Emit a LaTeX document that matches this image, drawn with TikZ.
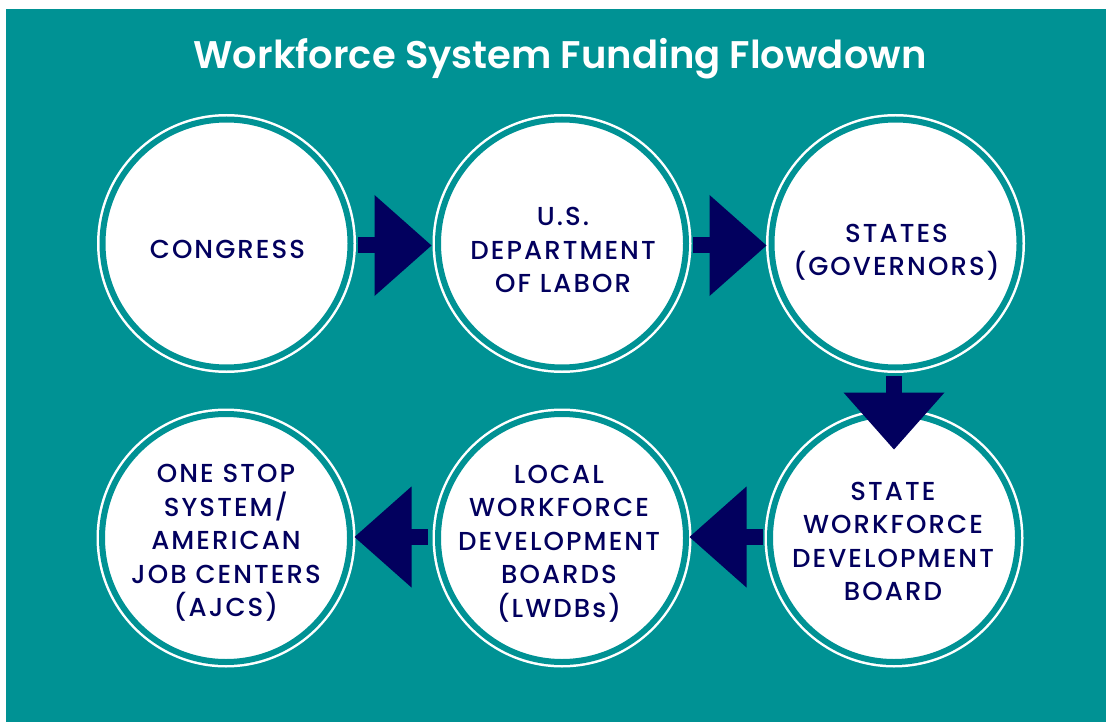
\documentclass[tikz,border=0pt]{standalone}
\usepackage{fontspec}
\setmainfont{Poppins}[UprightFont={* Medium},BoldFont={* SemiBold}]
\definecolor{tealbg}{RGB}{0,146,148}
\definecolor{navyc}{RGB}{2,0,94}
\tikzset{
  stepcirc/.style={circle, fill=white, draw=white, double=tealbg, double distance=6pt, line width=2.5pt, minimum size=248pt, inner sep=0pt},
  steptext/.style={text=navyc, align=center, font=\fontsize{26}{33.5}\selectfont\addfontfeatures{LetterSpace=8}, inner sep=0pt},
  blockarrow/.pic={
    \fill[navyc] (0,-8) rectangle (17,8);
    \fill[navyc] (16.5,-50.5) -- (16.5,50.5) -- (73.5,0) -- cycle;
  }
}
\begin{document}
\begin{tikzpicture}[x=1pt,y=-1pt]
\useasboundingbox (0,0) rectangle (1106,722);
\fill[tealbg] (6,9) rectangle (1106,722);
\node[text=white, font=\bfseries\fontsize{38.5}{40}\selectfont, anchor=base] (title) at (560,69) {Workforce System Funding Flowdown};
% circles
\node[stepcirc] (c1) at (226.5,243.5) {};
\node[stepcirc] (c2) at (562,243.5) {};
\node[stepcirc] (c3) at (895.5,243.5) {};
\node[stepcirc] (c4) at (894,538) {};
\node[stepcirc] (c5) at (562,538) {};
\node[stepcirc] (c6) at (226,538) {};
% texts
\node[steptext] (t1) at (227.5,249) {CONGRESS};
\node[steptext] (t2) at (563,250) {U.S.\\DEPARTMENT\\OF LABOR};
\node[steptext] (t3) at (896.5,252.5) {STATES\\(GOVERNORS)};
\node[steptext] (t4) at (893,541.5) {STATE\\WORKFORCE\\DEVELOPMENT\\BOARD};
\node[steptext] (t5) at (559,543.5) {LOCAL\\WORKFORCE\\DEVELOPMENT\\BOARDS\\(LWDBs)};
\node[steptext] (t6) at (226,543) {ONE STOP\\SYSTEM/\\AMERICAN\\JOB CENTERS\\(AJCS)};
% arrows
\path (c1.center) ++(131.5,2) pic{blockarrow};
\path (c2.center) ++(131,2) pic{blockarrow};
\path (c3.center) ++(-1.5,132.5) pic[rotate=-90]{blockarrow};
\path (c4.center) ++(-131,-1) pic[rotate=180]{blockarrow};
\path (c5.center) ++(-134,-1) pic[rotate=180]{blockarrow};
\end{tikzpicture}
\end{document}
